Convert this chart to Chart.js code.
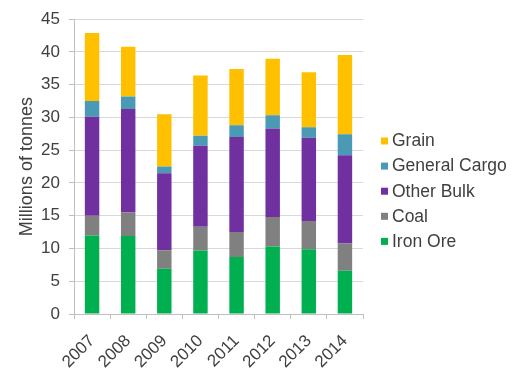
<!DOCTYPE html>
<html>
<head>
<meta charset="utf-8">
<style>
  html, body { margin: 0; padding: 0; background: #ffffff; }
  #wrap { width: 520px; height: 368px; position: relative; }
</style>
<script src="https://cdn.jsdelivr.net/npm/chart.js@4/dist/chart.umd.min.js"></script>
</head>
<body>
<div id="wrap"><canvas id="chart" width="520" height="368"></canvas></div>
<script>
// Port cargo throughput by commodity, millions of tonnes
const years = ['2007', '2008', '2009', '2010', '2011', '2012', '2013', '2014'];
const ironOre      = [12.0, 11.9, 6.9, 9.7, 8.7, 10.3, 9.9, 6.6];
const coal         = [3.0, 3.6, 2.85, 3.6, 3.8, 4.5, 4.3, 4.15];
const otherBulk    = [15.1, 15.8, 11.75, 12.4, 14.5, 13.5, 12.7, 13.5];
const generalCargo = [2.4, 1.9, 1.0, 1.5, 1.8, 2.05, 1.6, 3.2];
const grain        = [10.4, 7.6, 8.0, 9.2, 8.6, 8.6, 8.4, 12.1];
const yTicks = [0, 5, 10, 15, 20, 25, 30, 35, 40, 45];

const FONT = "'Liberation Sans', Arial, sans-serif";
const TEXT = '#404040';

// Legend drawn to the right of the plot, top entry = top of the stack
const sideLegend = {
  id: 'sideLegend',
  afterDraw(chart) {
    const ctx = chart.ctx;
    const items = chart.data.datasets.slice().reverse();
    const x = chart.chartArea.right + 18;
    let y = 141;
    ctx.save();
    ctx.font = '17.5px ' + FONT;
    ctx.textBaseline = 'middle';
    ctx.textAlign = 'left';
    items.forEach(ds => {
      ctx.fillStyle = ds.backgroundColor;
      ctx.fillRect(x, y - 3.5, 7, 7);
      ctx.fillStyle = TEXT;
      ctx.fillText(ds.label, x + 11, y + 0.5);
      y += 25.1;
    });
    ctx.restore();
  }
};

new Chart(document.getElementById('chart'), {
  type: 'bar',
  data: {
    labels: years,
    datasets: [
      { label: 'Iron Ore',      data: ironOre,      backgroundColor: '#00B050' },
      { label: 'Coal',          data: coal,         backgroundColor: '#808080' },
      { label: 'Other Bulk',    data: otherBulk,    backgroundColor: '#7030A0' },
      { label: 'General Cargo', data: generalCargo, backgroundColor: '#4A9AB5' },
      { label: 'Grain',         data: grain,        backgroundColor: '#FFC000' }
    ]
  },
  options: {
    responsive: false,
    animation: false,
    layout: { padding: { top: 8, right: 157, left: 0, bottom: 0 } },
    datasets: { bar: { barPercentage: 0.4, categoryPercentage: 1.0 } },
    plugins: {
      legend: { display: false },
      tooltip: { enabled: false }
    },
    scales: {
      x: {
        stacked: true,
        grid: {
          display: true,
          drawOnChartArea: false,
          offset: true,
          tickLength: 5,
          tickColor: '#bfbfbf'
        },
        border: { color: '#bfbfbf' },
        ticks: {
          color: TEXT,
          font: { family: FONT, size: 17 },
          minRotation: 45,
          maxRotation: 45,
          padding: 12
        },
        afterFit(scale) { scale.height = 54; }
      },
      y: {
        stacked: true,
        min: 0,
        max: 45,
        afterBuildTicks(scale) { scale.ticks = yTicks.map(v => ({ value: v })); },
        grid: {
          color: '#d9d9d9',
          tickLength: 5,
          tickColor: '#bfbfbf'
        },
        border: { color: '#bfbfbf' },
        ticks: {
          color: TEXT,
          font: { family: FONT, size: 17 },
          padding: 9
        },
        title: {
          display: true,
          text: 'Millions of tonnes',
          color: TEXT,
          font: { family: FONT, size: 18 },
          padding: { top: 16, bottom: 0 }
        },
        afterFit(scale) { scale.width = 74; }
      }
    }
  },
  plugins: [sideLegend]
});
</script>
</body>
</html>
